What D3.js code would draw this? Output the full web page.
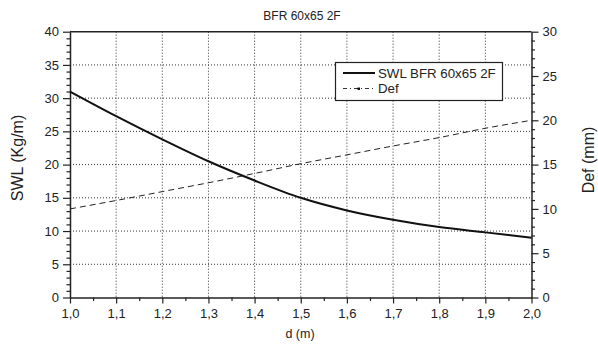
<!DOCTYPE html>
<html><head><meta charset="utf-8">
<script src="https://cdn.jsdelivr.net/npm/d3@7"></script>
<style>body{margin:0;background:#fff;} text{font-family:"Liberation Sans",Arial,sans-serif;fill:#222;}</style>
</head><body>
<svg id="c" width="598" height="346"></svg>
<script>
const title = "BFR 60x65 2F";
const dValues = [1.0,1.1,1.2,1.3,1.4,1.5,1.6,1.7,1.8,1.9,2.0];
const swl = [31.0,27.3,23.8,20.5,17.6,15.0,13.1,11.7,10.6,9.8,9.0];
const def = [10.0,10.95,11.95,12.95,14.0,15.1,16.1,17.1,18.05,19.1,20.0];
const xTicks = [1.0,1.1,1.2,1.3,1.4,1.5,1.6,1.7,1.8,1.9,2.0];
const yLeftTicks = [0,5,10,15,20,25,30,35,40];
const yRightTicks = [0,5,10,15,20,25,30];
const seriesNames = ["SWL BFR 60x65 2F","Def"];

const svg = d3.select("#c");
const L=70, R=531.5, T=31.7, B=297.5;
const x = d3.scaleLinear().domain([1,2]).range([L,R]);
const yl = d3.scaleLinear().domain([0,40]).range([B,T]);
const yr = d3.scaleLinear().domain([0,30]).range([B,T]);
const fmt = d => d.toFixed(1).replace(".", ",");
const ink = "#222";

// grid
const g = svg.append("g");
g.selectAll(".gx").data(xTicks.slice(1,-1)).enter().append("line")
  .attr("x1",d=>x(d)).attr("x2",d=>x(d)).attr("y1",T).attr("y2",B)
  .attr("stroke","#333").attr("stroke-width",1).attr("stroke-dasharray","1,2");
g.selectAll(".gy").data(yLeftTicks.slice(1,-1)).enter().append("line")
  .attr("y1",d=>yl(d)).attr("y2",d=>yl(d)).attr("x1",L).attr("x2",R)
  .attr("stroke","#333").attr("stroke-width",1).attr("stroke-dasharray","1,2");

// frame top
svg.append("line").attr("x1",L).attr("x2",R).attr("y1",T).attr("y2",T).attr("stroke",ink).attr("stroke-width",1.5);

// axes
function styleAxis(sel){
  sel.select(".domain").attr("stroke",ink).attr("stroke-width",1.5);
  sel.selectAll(".tick line").attr("stroke",ink).attr("stroke-width",1.2);
  sel.selectAll("text").style("font-size","13px").style("font-family","Liberation Sans, Arial, sans-serif").attr("fill","#222");
}
const xMinor = d3.range(1.05,2,0.1);
const xa = svg.append("g").attr("transform",`translate(0,${B})`)
  .call(d3.axisBottom(x).tickValues(xTicks).tickFormat(fmt).tickSizeOuter(0).tickSizeInner(6).tickPadding(5));
styleAxis(xa);
svg.append("g").attr("transform",`translate(0,${B})`)
  .call(d3.axisBottom(x).tickValues(xMinor).tickFormat("").tickSizeOuter(0).tickSize(3.5))
  .call(s=>{s.select(".domain").remove(); s.selectAll(".tick line").attr("stroke",ink).attr("stroke-width",1.2);});

const yla = svg.append("g").attr("transform",`translate(${L},0)`)
  .call(d3.axisLeft(yl).tickValues(yLeftTicks).tickSizeOuter(0).tickSizeInner(7).tickPadding(4));
styleAxis(yla);
svg.append("g").attr("transform",`translate(${L},0)`)
  .call(d3.axisLeft(yl).tickValues(d3.range(0,41).filter(v=>v%5!==0)).tickFormat("").tickSizeOuter(0).tickSize(3.5))
  .call(s=>{s.select(".domain").remove(); s.selectAll(".tick line").attr("stroke",ink).attr("stroke-width",1.2);});

const yra = svg.append("g").attr("transform",`translate(${R},0)`)
  .call(d3.axisRight(yr).tickValues(yRightTicks).tickSizeOuter(0).tickSizeInner(7).tickPadding(4));
styleAxis(yra);
svg.append("g").attr("transform",`translate(${R},0)`)
  .call(d3.axisRight(yr).tickValues(d3.range(0,31).filter(v=>v%5!==0)).tickFormat("").tickSizeOuter(0).tickSize(3.5))
  .call(s=>{s.select(".domain").remove(); s.selectAll(".tick line").attr("stroke",ink).attr("stroke-width",1.2);});

// lines
const swlData = dValues.map((d,i)=>[d,swl[i]]);
const defData = dValues.map((d,i)=>[d,def[i]]);
svg.append("path").datum(swlData)
  .attr("d", d3.line().x(d=>x(d[0])).y(d=>yl(d[1])).curve(d3.curveMonotoneX))
  .attr("fill","none").attr("stroke","#111").attr("stroke-width",2);
svg.append("path").datum(defData)
  .attr("d", d3.line().x(d=>x(d[0])).y(d=>yr(d[1])).curve(d3.curveMonotoneX))
  .attr("fill","none").attr("stroke","#222").attr("stroke-width",1).attr("stroke-dasharray","6,4");

// title and labels
svg.append("text").attr("x",302).attr("y",20).attr("text-anchor","middle").style("font-size","12px").text(title);
svg.append("text").attr("x",300).attr("y",338).attr("text-anchor","middle").style("font-size","12.5px").text("d (m)");
svg.append("text").attr("transform","translate(23,158) rotate(-90)").attr("text-anchor","middle").style("font-size","16px").text("SWL (Kg/m)");
svg.append("text").attr("transform","translate(594,160) rotate(-90)").attr("text-anchor","middle").style("font-size","16px").text("Def (mm)");

// legend
const lg = svg.append("g");
lg.append("rect").attr("x",335.5).attr("y",62.5).attr("width",167).attr("height",38)
  .attr("fill","#fff").attr("stroke",ink).attr("stroke-width",1.2);
lg.append("line").attr("x1",343).attr("x2",375).attr("y1",73).attr("y2",73).attr("stroke","#111").attr("stroke-width",2);
lg.append("text").attr("x",378).attr("y",77.5).style("font-size","13.3px").text(seriesNames[0]);
lg.append("line").attr("x1",343).attr("x2",375).attr("y1",88.5).attr("y2",88.5).attr("stroke","#333").attr("stroke-width",1).attr("stroke-dasharray","4,3,1,3");
lg.append("rect").attr("x",357.5).attr("y",87.5).attr("width",2.5).attr("height",2.5).attr("fill","#111");
lg.append("text").attr("x",378).attr("y",93).style("font-size","13.3px").text(seriesNames[1]);
</script>
</body></html>
